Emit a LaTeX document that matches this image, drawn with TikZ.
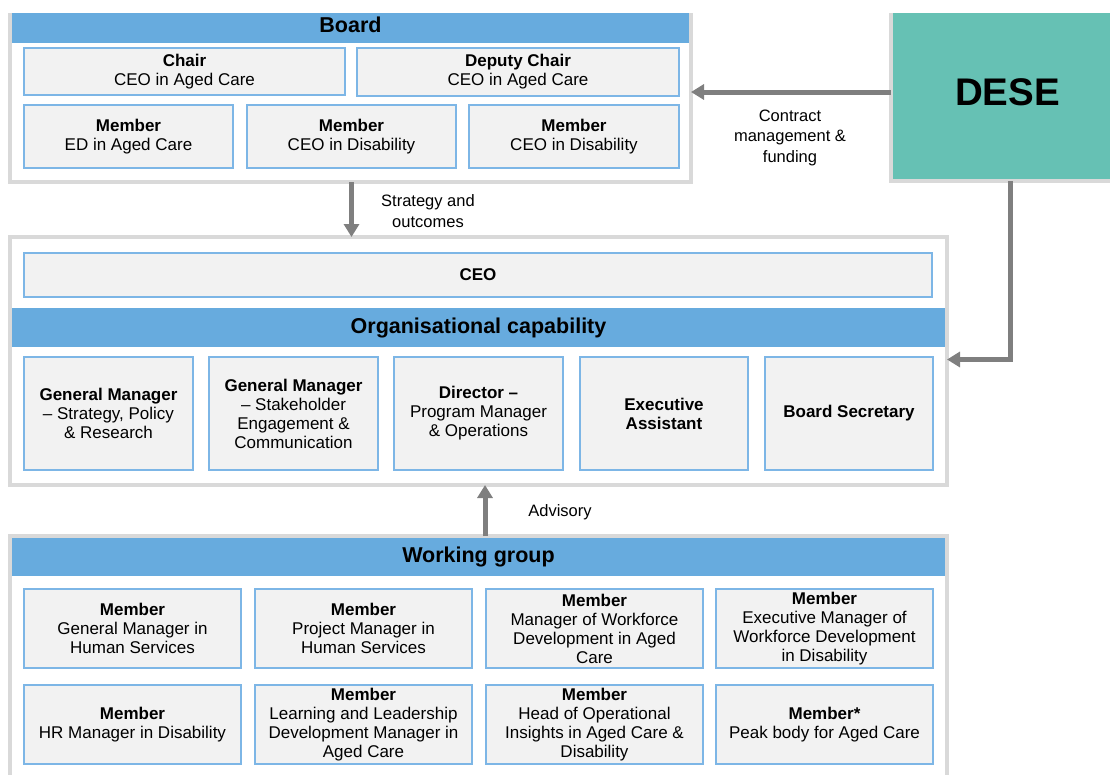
\documentclass[tikz,border=0pt]{standalone}
\usepackage{fontspec}
\setmainfont{Liberation Sans}
\usetikzlibrary{arrows.meta}
\definecolor{hdr}{HTML}{67ABDE}
\definecolor{bfill}{HTML}{F2F2F2}
\definecolor{bline}{HTML}{7DB6E6}
\definecolor{frmgray}{HTML}{D9D9D9}
\definecolor{deseteal}{HTML}{66C1B4}
\definecolor{arrgray}{HTML}{7F7F7F}
\begin{document}
\begin{tikzpicture}[x=1pt,y=-1pt,
  rect/.style args={#1/#2/#3/#4}{minimum width={#3-#1}, minimum height={#4-#2}, at={({(#1+#3)/2},{(#2+#4)/2})}},
  frm/.style={draw=frmgray, line width=4.3pt, inner sep=0pt, outer sep=0pt},
  hd/.style={fill=hdr, inner sep=0pt, outer sep=0pt, font=\fontsize{21.5}{24}\selectfont\bfseries},
  bx/.style={draw=bline, fill=bfill, line width=1.6pt, inner sep=0pt, outer sep=0pt, align=center, font=\fontsize{17}{19}\selectfont},
  lbl/.style={align=center, font=\fontsize{16.5}{20.5}\selectfont, inner sep=0pt},
  arr/.style={draw=arrgray, line width=5pt, -{Triangle[length=13pt,width=15pt]}}
]
\useasboundingbox (0,0) rectangle (1110,774);
\clip (0,13) rectangle (1110,774);

% ---------- Board ----------
\node[frm, rect=10/11/691/182] (board) {};
\node[hd, text depth=7pt, rect=12/13/689/43] (boardhd) {Board};
\node[bx, rect=24/48/345/95] (chair) {\textbf{Chair}\\CEO in Aged Care};
\node[bx, rect=357/48/679/96] (deputy) {\textbf{Deputy Chair}\\CEO in Aged Care};
\node[bx, rect=24/105/233/168] (bm1) {\textbf{Member}\\ED in Aged Care};
\node[bx, rect=247/105/456/168] (bm2) {\textbf{Member}\\CEO in Disability};
\node[bx, rect=469/105/679/168] (bm3) {\textbf{Member}\\CEO in Disability};

% ---------- DESE ----------
\node[frm, fill=deseteal, rect=891/11/1125/181] (dese) {};
\node[inner sep=0pt, font=\fontsize{38.5}{42}\selectfont\bfseries] (desetxt) at (1007.5,92) {DESE};

% ---------- Middle ----------
\node[frm, rect=10/237/947/485] (mid) {};
\node[bx, font=\fontsize{17}{19}\selectfont\bfseries, rect=24/253/932/297] (ceo) {CEO};
\node[hd, rect=12/308/945/347] (orghd) {Organisational capability};
\node[bx, rect=24/357/193/470] (o1) {\textbf{General Manager}\\– Strategy, Policy\\\& Research};
\node[bx, rect=209/357/378/470] (o2) {\textbf{General Manager}\\– Stakeholder\\Engagement \&\\Communication};
\node[bx, rect=394/357/563/470] (o3) {\textbf{Director –}\\Program Manager\\\& Operations};
\node[bx, rect=580/357/748/470] (o4) {\textbf{Executive}\\\textbf{Assistant}};
\node[bx, rect=765/357/933/470] (o5) {\textbf{Board Secretary}};

% ---------- Working group ----------
\node[frm, rect=10/536/947/790] (wg) {};
\node[hd, rect=12/538/945/576] (wghd) {Working group};
\node[bx, rect=24/589/241/668] (w1) {\textbf{Member}\\General Manager in\\Human Services};
\node[bx, rect=255/589/472/668] (w2) {\textbf{Member}\\Project Manager in\\Human Services};
\node[bx, rect=486/589/703/668] (w3) {\textbf{Member}\\Manager of Workforce\\Development in Aged\\Care};
\node[bx, rect=716/589/933/668] (w4) {\textbf{Member}\\Executive Manager of\\Workforce Development\\in Disability};
\node[bx, rect=24/685/241/764] (w5) {\textbf{Member}\\HR Manager in Disability};
\node[bx, rect=255/685/472/764] (w6) {\textbf{Member}\\Learning and Leadership\\Development Manager in\\Aged Care};
\node[bx, rect=486/685/703/764] (w7) {\textbf{Member}\\Head of Operational\\Insights in Aged Care \&\\Disability};
\node[bx, rect=716/685/933/764] (w8) {\textbf{Member*}\\Peak body for Aged Care};

% ---------- Connectors ----------
\coordinate (ya) at (0,92);
\coordinate (xs) at (351.5,0);
\coordinate (xd) at (1010,0);
\coordinate (yd) at (0,359.5);
\coordinate (xa) at (485,0);

\draw[arr] (dese.west |- ya) -- (board.east |- ya);
\node[lbl] (lcontract) at (790,137.5) {Contract\\management \&\\funding};

\draw[arr] (board.south -| xs) -- (mid.north -| xs);
\node[lbl] (lstrategy) at (428,211) {Strategy and\\outcomes};

\draw[arr] (dese.south -| xd) |- (mid.east |- yd);

\draw[arr] (wg.north -| xa) -- (mid.south -| xa);
\node[lbl] (ladvisory) at (560,512) {Advisory};
\end{tikzpicture}
\end{document}
